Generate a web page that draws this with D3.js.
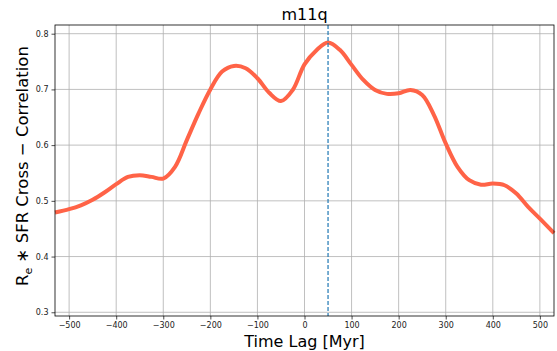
<!DOCTYPE html>
<html>
<head>
<meta charset="utf-8">
<script src="https://cdn.jsdelivr.net/npm/d3@7"></script>
<style>
  body { margin: 0; background: #fff; }
  text { font-family: "DejaVu Sans", sans-serif; }
</style>
</head>
<body>
<script>
// Chart size and plot area.
var width  = 557,
    height = 351,
    margin = {top: 25, right: 3, bottom: 35, left: 55};

// Data.
var lags = [-530, -500, -475, -450, -425, -400, -375, -350, -325, -300, -275,
            -250, -225, -200, -175, -150, -125, -100, -75, -50, -25, 0,
            25, 50, 75, 100, 125, 150, 175, 200, 225, 250, 275, 300,
            325, 350, 375, 400, 425, 450, 475, 500, 530];
var corr = [0.479, 0.485, 0.492, 0.502, 0.515, 0.530, 0.543, 0.546, 0.543, 0.540, 0.561,
            0.609, 0.657, 0.700, 0.732, 0.742, 0.738, 0.720, 0.694, 0.679, 0.699, 0.745,
            0.770, 0.784, 0.771, 0.744, 0.717, 0.699, 0.692, 0.693, 0.699, 0.690, 0.654, 0.603,
            0.561, 0.537, 0.529, 0.531, 0.528, 0.513, 0.489, 0.468, 0.442];
var peakLag = 50;
var xTicks = [-500, -400, -300, -200, -100, 0, 100, 200, 300, 400, 500];
var yTicks = [0.3, 0.4, 0.5, 0.6, 0.7, 0.8];

var svg = d3.select("body")
    .append("svg")
    .attr("width", width)
    .attr("height", height);

var x = d3.scaleLinear()
    .domain([-530, 530])
    .range([margin.left, width - margin.right]);

var y = d3.scaleLinear()
    .domain([0.2933, 0.8156])
    .range([height - margin.bottom, margin.top]);

// Grid lines.
svg.append("g")
    .selectAll("line")
    .data(xTicks)
  .enter()
    .append("line")
    .attr("x1", function(d) { return x(d); })
    .attr("x2", function(d) { return x(d); })
    .attr("y1", margin.top)
    .attr("y2", height - margin.bottom)
    .attr("stroke", "#b0b0b0")
    .attr("stroke-width", 0.8);

svg.append("g")
    .selectAll("line")
    .data(yTicks)
  .enter()
    .append("line")
    .attr("x1", margin.left)
    .attr("x2", width - margin.right)
    .attr("y1", function(d) { return y(d); })
    .attr("y2", function(d) { return y(d); })
    .attr("stroke", "#b0b0b0")
    .attr("stroke-width", 0.8);

// The curve.
var line = d3.line()
    .x(function(d, i) { return x(lags[i]); })
    .y(function(d) { return y(d); })
    .curve(d3.curveCatmullRom);

svg.append("path")
    .datum(corr)
    .attr("d", line)
    .attr("fill", "none")
    .attr("stroke", "#ff6347")
    .attr("stroke-width", 4)
    .attr("stroke-linejoin", "round");

// Peak marker.
svg.append("line")
    .attr("x1", x(peakLag))
    .attr("x2", x(peakLag))
    .attr("y1", margin.top)
    .attr("y2", height - margin.bottom)
    .attr("stroke", "#1f77b4")
    .attr("stroke-width", 1.2)
    .attr("stroke-dasharray", "4,2");

// Axes.
var xAxis = svg.append("g")
    .attr("transform", "translate(0," + (height - margin.bottom) + ")")
    .call(d3.axisBottom(x).tickValues(xTicks).tickSize(3.5).tickPadding(3));

var yAxis = svg.append("g")
    .attr("transform", "translate(" + margin.left + ",0)")
    .call(d3.axisLeft(y).tickValues(yTicks).tickSize(3.5).tickPadding(3)
        .tickFormat(d3.format(".1f")));

[xAxis, yAxis].forEach(function(a) {
    a.select(".domain").remove();
    a.selectAll("text")
        .attr("font-family", "DejaVu Sans, sans-serif")
        .attr("font-size", "8px")
        .attr("fill", "#222");
    a.selectAll("line").attr("stroke", "#222").attr("stroke-width", 0.8);
});

// Frame.
svg.append("rect")
    .attr("x", margin.left)
    .attr("y", margin.top)
    .attr("width", width - margin.left - margin.right)
    .attr("height", height - margin.top - margin.bottom)
    .attr("fill", "none")
    .attr("stroke", "#000")
    .attr("stroke-width", 0.8);

// Title and labels.
svg.append("text")
    .attr("x", (margin.left + width - margin.right) / 2)
    .attr("y", 20)
    .attr("text-anchor", "middle")
    .attr("font-size", "16px")
    .text("m11q");

svg.append("text")
    .attr("x", (margin.left + width - margin.right) / 2)
    .attr("y", 347)
    .attr("text-anchor", "middle")
    .attr("font-size", "16px")
    .text("Time Lag [Myr]");

var ylab = svg.append("text")
    .attr("transform", "translate(28,166) rotate(-90)")
    .attr("text-anchor", "middle")
    .attr("font-size", "16.5px");
ylab.append("tspan").text("R");
ylab.append("tspan").attr("dy", 4).attr("font-size", "11px").text("e");
ylab.append("tspan").attr("dy", -4).text(" \u2217 SFR Cross \u2212 Correlation");
</script>
</body>
</html>
